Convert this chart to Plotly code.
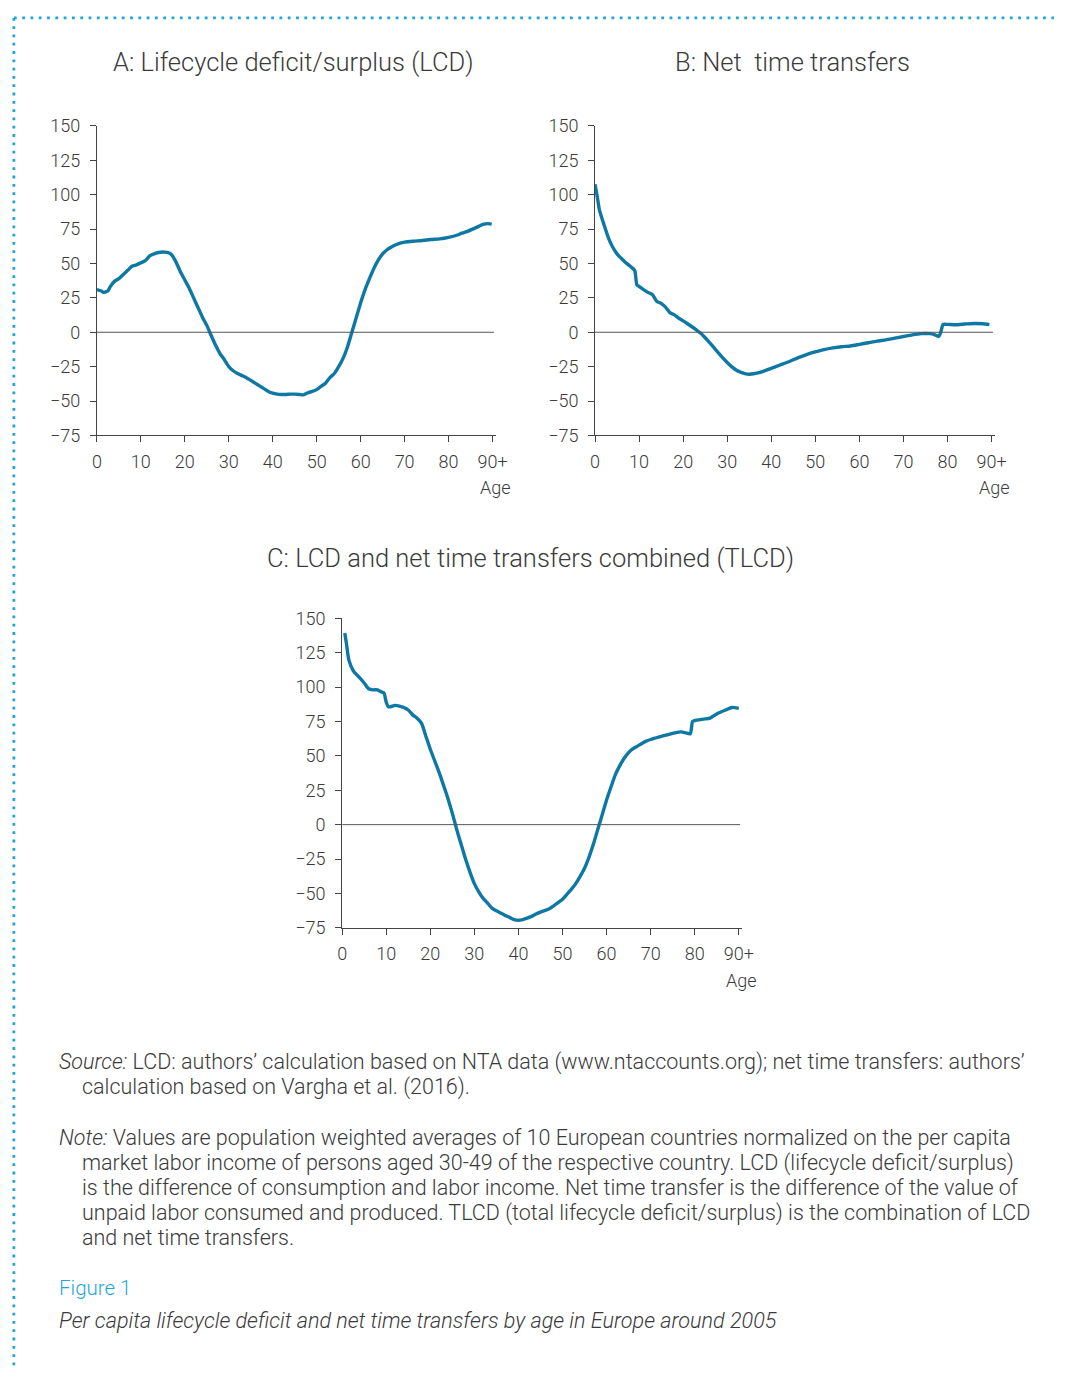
import plotly.graph_objects as go

# ---------------- data ----------------
ages_a = [0, 1, 1.5, 2.5, 3, 4, 5, 6, 7, 8, 9, 10, 11, 12, 13, 14, 15, 16, 17, 18, 19, 20,
          21, 22, 23, 24, 25, 26, 27, 28, 29, 30, 31, 32, 33, 34, 35, 36, 37, 38, 39, 40,
          41, 42, 43, 44, 45, 46, 47, 48, 49, 50, 51, 52, 53, 54, 55, 56, 57, 58, 59, 60,
          61, 62, 63, 64, 65, 66, 67, 68, 69, 70, 72, 74, 76, 78, 80, 82, 83, 84, 86, 88, 89, 89.8]
lcd = [31, 30, 29, 30, 33, 37, 39, 42, 45, 48, 49, 50.5, 52, 55.5, 57, 58, 58.3, 58, 56.4, 51, 44, 38,
       32, 25, 18, 11, 5, -2.4, -9.5, -15.5, -20, -25, -28, -30, -31.5, -33, -35, -37, -39, -41, -43, -44.3,
       -45, -45.2, -45.2, -45, -45, -45.2, -45.5, -44, -43, -41.7, -39.3, -37, -33, -30, -25, -19, -10.7, 0, 10.7, 21.4,
       31, 39, 46.4, 52.4, 57, 60, 62, 63.6, 64.8, 65.5, 66.2, 66.7, 67.4, 67.9, 69, 70.7, 72, 73, 75.7, 78.6, 79, 78.6]

ages_b = [0, 0.5, 1, 2, 3, 4, 5, 6, 7, 8, 9, 9.5, 10, 11, 12, 13, 14, 15, 16, 17, 18, 19, 20,
          21, 22, 23, 24, 25, 26, 27, 28, 29, 30, 31, 32, 33, 34, 35, 36, 37, 38, 39, 40,
          42, 44, 46, 48, 50, 52, 54, 56, 58, 60, 62, 64, 66, 68, 70, 72, 74, 76, 77, 78, 78.5, 79,
          80, 82, 84, 86, 88, 89.5]
ntt = [107.6, 98.8, 89, 78.6, 69, 62, 57, 53.6, 50.5, 48, 45, 34.5, 33.3, 31, 29, 27.4, 22.6, 21, 18.3, 14.3, 12.6, 10.2, 8.3,
       6.2, 4, 1.7, -0.7, -4, -7.6, -11.2, -15, -18.6, -22, -25, -27.4, -29, -30, -30.5, -30.2, -29.5, -28.6, -27.4, -26.2,
       -23.8, -21.4, -18.6, -16.2, -14.3, -12.6, -11.4, -10.5, -10, -8.8, -7.6, -6.4, -5.5, -4.3, -3.1, -1.9, -1, -1, -1.7, -3.1, 0.5, 5.7,
       5.7, 5.5, 6, 6.4, 6.2, 5.5]

ages_c = [0.6, 1, 1.5, 2.5, 3, 4, 5, 6, 7, 8, 9, 9.5, 10, 10.5, 11, 12, 13, 14, 15, 16, 17, 18, 19, 20,
          21, 22, 23, 24, 25, 26, 27, 28, 29, 30, 31, 32, 33, 34, 35, 36, 37, 38, 39, 40,
          41, 42, 43, 44, 45, 46, 47, 48, 49, 50, 51, 52, 53, 54, 55, 56, 57, 58, 59, 60,
          61, 62, 63, 64, 65, 66, 67, 68, 69, 70, 72, 74, 76, 77, 78, 79, 79.5, 80, 82, 83.5, 85, 87, 88.5, 90]
tlcd = [139.3, 131, 120, 112, 110, 106.7, 103, 98.8, 98, 98, 96.4, 95.7, 89, 85.7, 85.7, 86.7, 86.2, 85.2, 83.3, 79.8, 77.4, 73.8, 64.3, 54.8,
        46.4, 38, 28.6, 19, 8.3, -3.6, -14.3, -25, -34.5, -42.9, -48.8, -53.6, -57.1, -60.7, -62.6, -64.3, -66, -67.4, -69, -69.5,
        -69, -67.9, -66.7, -65, -63.6, -62.4, -61.2, -59, -56.7, -54.3, -50.7, -47.1, -42.9, -37.6, -31.7, -23.8, -14.3, -3.6, 7.1, 17.9,
        27.4, 36.4, 42.9, 48.3, 52.4, 55.2, 57.1, 59, 60.7, 61.9, 63.8, 65.5, 67.1, 67.4, 66.7, 66, 75, 75.7, 76.7, 77.4, 80.5, 83.3, 85.2, 84.5]

x_tickvals = [0, 10, 20, 30, 40, 50, 60, 70, 80, 90]
x_ticktext = ["0", "10", "20", "30", "40", "50", "60", "70", "80", "90+"]
y_tickvals = [-75, -50, -25, 0, 25, 50, 75, 100, 125, 150]

titles = ["A: Lifecycle deficit/surplus (LCD)", "B: Net\u00a0 time transfers",
          "C: LCD and net time transfers combined (TLCD)"]

source_lines = ["<i>Source:</i> LCD: authors\u2019 calculation based on NTA data (www.ntaccounts.org); net time transfers: authors\u2019",
                "calculation based on Vargha et al. (2016)."]
note_lines = ["<i>Note:</i> Values are population weighted averages of 10 European countries normalized on the per capita",
              "market labor income of persons aged 30-49 of the respective country. LCD (lifecycle deficit/surplus)",
              "is the difference of consumption and labor income. Net time transfer is the difference of the value of",
              "unpaid labor consumed and produced. TLCD (total lifecycle deficit/surplus) is the combination of LCD",
              "and net time transfers."]
fig_label = "Figure 1"
caption = "Per capita lifecycle deficit and net time transfers by age in Europe around 2005"

# ---------------- layout helpers ----------------
W, H = 1065, 1378
LINE = "#0E78A4"
TEXT = "#3a3a3a"
AX = "#444444"
BLUE = "#1FA5E0"
FONT = "Roboto"

def fx(px):
    return px / W

def fy(py):
    return 1 - py / H

XMAX = 90.8
panels = [
    # (x0 px, px per year, y top(150) px, y bottom(-75) px)
    (93.3, 4.463, 116.7, 431.0),
    (599.0, 4.474, 116.7, 431.0),
    (342.3, 4.474, 616.7, 931.0),
]

fig = go.Figure()
series = [(ages_a, lcd), (ages_b, ntt), (ages_c, tlcd)]
layout_axes = {}
shapes = []
annotations = []
tickfont = dict(family=FONT, size=18, color=TEXT, weight=300)
for i, ((ax_x, ax_y), (x0, ppy, ytop, ybot)) in enumerate(zip(series, panels)):
    n = "" if i == 0 else str(i + 1)
    xa, ya = "x" + n, "y" + n
    fig.add_trace(go.Scatter(x=ax_x, y=ax_y, mode="lines", xaxis=xa, yaxis=ya,
                             line=dict(color=LINE, width=3.4, shape="spline", smoothing=0.6),
                             showlegend=False, hoverinfo="x+y"))
    x1 = x0 + XMAX * ppy
    layout_axes["xaxis" + n] = dict(
        domain=[fx(x0), fx(x1)], range=[0, XMAX], anchor=ya,
        tickvals=x_tickvals, ticktext=x_ticktext, ticks="outside", ticklen=6,
        tickcolor=AX, showline=True, linecolor=AX, linewidth=1, showgrid=False,
        zeroline=False, tickfont=tickfont, ticklabelstandoff=4, fixedrange=True)
    layout_axes["yaxis" + n] = dict(
        domain=[fy(ybot), fy(ytop)], range=[-75, 150], anchor=xa,
        tickvals=y_tickvals, ticks="outside", ticklen=6, tickcolor=AX,
        showline=True, linecolor=AX, linewidth=1, showgrid=False, zeroline=False,
        tickfont=tickfont, ticklabelstandoff=6, fixedrange=True)
    shapes.append(dict(type="line", xref=xa, yref=ya, x0=0, x1=90.3, y0=0, y1=0,
                       line=dict(color="#555555", width=1)))
    annotations.append(dict(text="Age", xref="paper", yref="paper",
                            x=fx(x0 + 90 * ppy + 3), y=fy(ybot + 53), xanchor="center",
                            yanchor="middle", showarrow=False, font=tickfont))

title_pos = [(293, 52), (800, 52), (534, 555)]
for t, (px, py) in zip(titles, title_pos):
    annotations.append(dict(text=t, xref="paper", yref="paper", x=fx(px), y=fy(py),
                            xanchor="center", yanchor="middle", showarrow=False,
                            font=dict(family=FONT, size=25.5, color=TEXT, weight=300)))

def add_para(lines, ystart, step=25.4):
    for k, ln in enumerate(lines):
        annotations.append(dict(text=ln, xref="paper", yref="paper",
                                x=fx(53 if k == 0 else 76), y=fy(ystart + k * step),
                                xanchor="left", yanchor="middle", showarrow=False,
                                font=dict(family=FONT, size=21.5, color=TEXT, weight=300)))

add_para(source_lines, 1067)
add_para(note_lines, 1144)
annotations.append(dict(text=fig_label, xref="paper", yref="paper", x=fx(53), y=fy(1297),
                        xanchor="left", yanchor="middle", showarrow=False,
                        font=dict(family=FONT, size=20.5, color=BLUE, weight=300)))
annotations.append(dict(text="<i>" + caption + "</i>", xref="paper", yref="paper", x=fx(53),
                        y=fy(1330), xanchor="left", yanchor="middle", showarrow=False,
                        font=dict(family=FONT, size=21.6, color=TEXT, weight=300)))

# dotted frame
shapes.append(dict(type="line", xref="paper", yref="paper", x0=fx(9), x1=fx(1065),
                   y0=fy(7), y1=fy(7), line=dict(color=BLUE, width=2.8, dash="2.8px,5.5px")))
shapes.append(dict(type="line", xref="paper", yref="paper", x0=fx(9), x1=fx(9),
                   y0=fy(7), y1=fy(1378), line=dict(color=BLUE, width=2.8, dash="2.8px,5.5px")))

fig.update_layout(width=W, height=H, margin=dict(l=0, r=0, t=0, b=0),
                  paper_bgcolor="white", plot_bgcolor="white",
                  shapes=shapes, annotations=annotations, **layout_axes)
fig.write_html("out.html", config={"displayModeBar": False},
               post_script="document.body.style.margin='0';document.body.style.overflow='hidden';")
